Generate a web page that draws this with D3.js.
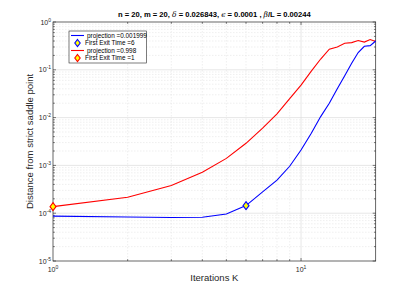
<!DOCTYPE html>
<html><head><meta charset="utf-8">
<script src="https://cdn.jsdelivr.net/npm/d3@7"></script>
<style>body{margin:0;background:#fff}svg{display:block;font-family:"Liberation Sans",Arial,sans-serif}</style>
</head><body><svg id="c" width="415" height="294"></svg>
<script>
const iterations = [1,2,3,4,5,6,7,8,9,10,11,12,13,14,15,16,17,18,19,20];
const blueValues = [8.7e-5,8.3e-5,8.1e-5,8.2e-5,9.6e-5,1.44e-4,2.8e-4,4.9e-4,9.6e-4,2.1e-3,4.7e-3,1.05e-2,0.02,0.04,0.075,0.137,0.23,0.31,0.32,0.40];
const redValues = [1.37e-4,2.15e-4,3.8e-4,7.2e-4,1.4e-3,2.9e-3,6.0e-3,1.2e-2,2.5e-2,4.8e-2,0.094,0.168,0.27,0.30,0.36,0.37,0.41,0.38,0.43,0.39];
const blueExit = 6, redExit = 1;
const legendLabels = ["projection =0.001999","First Exit Time =6","projection =0.998","First Exit Time =1"];
const xTickExps = [0,1];
const yTickExps = [-5,-4,-3,-2,-1,0];

const svg = d3.select("#c");
const L=53,R=375.7,T=22,B=261;
const x = d3.scaleLog().domain([1,20]).range([L,R]);
const y = d3.scaleLog().domain([1e-5,1]).range([B,T]);
const axisCol="#262626";

// grid
const g = svg.append("g");
const xMinor=[]; for(let d=1;d<=10;d*=10) for(let k=2;k<=9;k++){const v=d*k; if(v<20) xMinor.push(v);}
const yMinor=[]; for(let e=-5;e<0;e++) for(let k=2;k<=9;k++) yMinor.push(k*Math.pow(10,e));
g.selectAll(".xm").data(xMinor).join("line").attr("x1",d=>x(d)).attr("x2",d=>x(d)).attr("y1",T).attr("y2",B)
 .attr("stroke","#e4e4e4").attr("stroke-width",0.6).attr("stroke-dasharray","1.5,1.5");
g.selectAll(".ym").data(yMinor).join("line").attr("y1",d=>y(d)).attr("y2",d=>y(d)).attr("x1",L).attr("x2",R)
 .attr("stroke","#e4e4e4").attr("stroke-width",0.6).attr("stroke-dasharray","1.5,1.5");
g.selectAll(".xM").data([10]).join("line").attr("x1",d=>x(d)).attr("x2",d=>x(d)).attr("y1",T).attr("y2",B)
 .attr("stroke","#dcdcdc").attr("stroke-width",0.7);
g.selectAll(".yM").data(yTickExps.slice(1,-1)).join("line").attr("y1",d=>y(Math.pow(10,d))).attr("y2",d=>y(Math.pow(10,d))).attr("x1",L).attr("x2",R)
 .attr("stroke","#dcdcdc").attr("stroke-width",0.7);

// axes box & ticks
const ax = svg.append("g");
ax.append("rect").attr("x",L).attr("y",T).attr("width",R-L).attr("height",B-T).attr("fill","none").attr("stroke",axisCol).attr("stroke-width",0.7);
const xt=[...xMinor,10];
xt.forEach(v=>{const len = v===10?3:1.8;
  ax.append("line").attr("x1",x(v)).attr("x2",x(v)).attr("y1",B).attr("y2",B-len).attr("stroke",axisCol).attr("stroke-width",0.6);
  ax.append("line").attr("x1",x(v)).attr("x2",x(v)).attr("y1",T).attr("y2",T+len).attr("stroke",axisCol).attr("stroke-width",0.6);});
const yt=[...yMinor,...yTickExps.map(e=>Math.pow(10,e))];
yt.forEach(v=>{const len = Math.abs(Math.log10(v)-Math.round(Math.log10(v)))<1e-9?3:1.8;
  ax.append("line").attr("y1",y(v)).attr("y2",y(v)).attr("x1",L).attr("x2",L+len).attr("stroke",axisCol).attr("stroke-width",0.6);
  ax.append("line").attr("y1",y(v)).attr("y2",y(v)).attr("x1",R).attr("x2",R-len).attr("stroke",axisCol).attr("stroke-width",0.6);});

// tick labels
xTickExps.forEach(e=>{
  const t=svg.append("text").attr("x",x(Math.pow(10,e))).attr("y",B+11).attr("text-anchor","middle").attr("font-size",7).attr("fill",axisCol);
  t.append("tspan").text("10");
  t.append("tspan").attr("dy",-3).attr("font-size",5).text(e);
});
yTickExps.forEach(e=>{
  const t=svg.append("text").attr("x",L-2).attr("y",y(Math.pow(10,e))+2.5).attr("text-anchor","end").attr("font-size",7).attr("fill",axisCol);
  t.append("tspan").text("10");
  t.append("tspan").attr("dy",-3).attr("font-size",5).text(e);
});

// axis labels
svg.append("text").attr("x",(L+R)/2).attr("y",281).attr("text-anchor","middle").attr("font-size",9.5).attr("fill",axisCol).text("Iterations K");
svg.append("text").attr("transform",`translate(33,${(T+B)/2}) rotate(-90)`).attr("text-anchor","middle").attr("font-size",9.5).attr("fill",axisCol).text("Distance from strict saddle point");

// title
const tt=svg.append("text").attr("x",(L+R)/2).attr("y",17).attr("text-anchor","middle").attr("font-size",7.6).attr("font-weight","bold").attr("fill","#000");
tt.append("tspan").text("n = 20, m = 20, ");
tt.append("tspan").attr("font-style","italic").attr("font-family","DejaVu Serif").attr("font-weight","normal").text("δ");
tt.append("tspan").text(" = 0.026843, ");
tt.append("tspan").attr("font-style","italic").attr("font-family","DejaVu Serif").attr("font-weight","normal").text("ϵ");
tt.append("tspan").text(" = 0.0001 , ");
tt.append("tspan").attr("font-style","italic").attr("font-family","DejaVu Serif").attr("font-weight","normal").text("β");
tt.append("tspan").text("/L = 0.00244");

// lines
const line = d3.line().x((d,i)=>x(iterations[i])).y(d=>y(d));
svg.append("path").datum(redValues).attr("d",line).attr("fill","none").attr("stroke","#ff0000").attr("stroke-width",1.1);
svg.append("path").datum(blueValues).attr("d",line).attr("fill","none").attr("stroke","#0000ff").attr("stroke-width",1.1);

function diamond(cx,cy,col){
  svg.append("path").attr("d",`M${cx},${cy-4}L${cx+3},${cy}L${cx},${cy+4}L${cx-3},${cy}Z`).attr("fill","#ffff00").attr("stroke",col).attr("stroke-width",1.1);
}
diamond(x(blueExit), y(blueValues[iterations.indexOf(blueExit)]), "#0000ff");
diamond(x(redExit), y(redValues[iterations.indexOf(redExit)]), "#ff0000");

// legend
const lg=svg.append("g");
lg.append("rect").attr("x",69).attr("y",31).attr("width",77.5).attr("height",32).attr("fill","#fff").attr("stroke","#262626").attr("stroke-width",0.6);
const rows=[31+4.5,31+12,31+19.5,31+27];
const cols=["#0000ff","#0000ff","#ff0000","#ff0000"];
legendLabels.forEach((lab,i)=>{
  const cy=rows[i];
  if(i%2===0){ lg.append("line").attr("x1",71).attr("x2",84).attr("y1",cy).attr("y2",cy).attr("stroke",cols[i]).attr("stroke-width",1.1); }
  else { lg.append("path").attr("d",`M77.5,${cy-3.5}L80.2,${cy}L77.5,${cy+3.5}L74.8,${cy}Z`).attr("fill","#ffff00").attr("stroke",cols[i]).attr("stroke-width",1.1); }
  lg.append("text").attr("x",i%2===0?87:85).attr("y",cy+2.3).attr("font-size",6.4).attr("fill","#000").text(lab);
});
</script></body></html>
